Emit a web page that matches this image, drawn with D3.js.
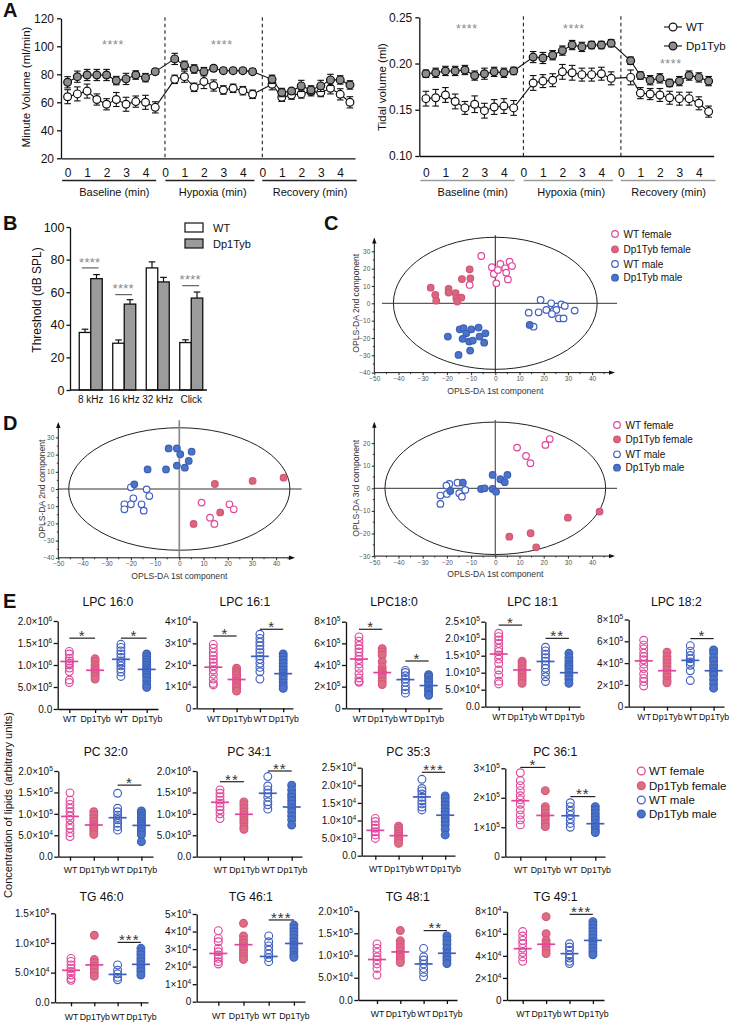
<!DOCTYPE html>
<html><head><meta charset="utf-8">
<script src="https://cdn.jsdelivr.net/npm/d3@7/dist/d3.min.js"></script>
<style>html,body{margin:0;padding:0;background:#fff;} svg{display:block;}</style>
</head><body>
<svg id="fig" width="732" height="1022" xmlns="http://www.w3.org/2000/svg"></svg>
<script>
const FONT = '"Liberation Sans", Arial, Helvetica, sans-serif';

// ================= Panel A data =================
const aTimes = [0,0.5,1,1.5,2,2.5,3,3.5,4,4.5, 5.5,6,6.5,7,7.5,8,8.5,9,9.5, 10.5,11,11.5,12,12.5,13,13.5,14,14.5];
const mvWT    = [64,66,68,62,58.6,62,58.6,60.5,60,56.4, 76.4,78.3,70.7,74.8,72,68.8,70,68.3,65.7, 72.9,63.6,65.2,66,67.6,67,70,65.7,60];
const mvWTerr = [5,5,5,4,4,5,5,4,5,4, 3,4,3,5,4,3,3,3,3, 4,3,3,3,3,3,4,4,4];
const mvDp    = [74.3,78.3,79.5,79.5,79.5,75.5,76.7,79.5,77.6,81.9, 91,86.4,83.8,81.9,84.3,82.6,82.6,82.6,81.9, 76.4,67,68,71.7,68.8,71.7,76,76,72.4];
const mvDpErr = [4,4,4,4,4,3,4,3,3,2, 4,3,3,3,2,2,2,2,2, 3,3,2,4,3,4,4,3,3];
const tvWT    = [0.162,0.163,0.166,0.159,0.152,0.156,0.149,0.153,0.154,0.152, 0.179,0.181,0.182,0.191,0.190,0.188,0.188,0.189,0.184, 0.185,0.168,0.167,0.166,0.163,0.162,0.162,0.157,0.148];
const tvWTerr = [0.008,0.009,0.008,0.008,0.007,0.009,0.008,0.008,0.008,0.008, 0.008,0.007,0.007,0.008,0.008,0.007,0.007,0.007,0.007, 0.008,0.006,0.006,0.007,0.007,0.007,0.007,0.007,0.006];
const tvDp    = [0.189,0.190,0.192,0.192,0.193,0.187,0.189,0.191,0.190,0.192, 0.207,0.206,0.209,0.214,0.220,0.218,0.220,0.220,0.222, 0.203,0.187,0.182,0.184,0.179,0.181,0.187,0.185,0.181];
const tvDpErr = [0.004,0.005,0.005,0.005,0.005,0.005,0.006,0.005,0.005,0.004, 0.006,0.006,0.005,0.005,0.005,0.005,0.004,0.004,0.004, 0.004,0.004,0.005,0.005,0.004,0.005,0.005,0.005,0.005];
const aTickVals = [0,1,2,3,4,5,6,7,8,9,10,11,12,13,14];
const aTickLabels = ["0","1","2","3","4","0","1","2","3","4","0","1","2","3","4"];
const aGroups = ["Baseline (min)","Hypoxia (min)","Recovery (min)"];
const aGroupSpans = [[-0.28,4.55],[5.02,9.6],[10.0,14.85]];
const aGroupCenters = [2.4,7.45,12.45];
const aDashes = [5,10];
const mvTicks = [20,40,60,80,100,120];
const tvTicks = [0.10,0.15,0.20,0.25];
const mvStars = [[2.33,102.4],[7.92,102.4]];
const tvStars = [[2.1,0.2395],[7.59,0.2395],[12.56,0.2017]];

// ================= Panel B data =================
const bCats = ["8 kHz","16 kHz","32 kHz","Click"];
const bWT = [35.3,28.7,74.9,29.1];
const bWTerr = [2,2,3.7,1.7];
const bDp = [68.3,52.7,66.3,56.4];
const bDpErr = [2.5,2.7,2.8,3.7];
const bTicks = [0,20,40,60,80,100];
const bSig = [[0,74.9],[1,58.5],[3,64]];

// ================= Panel C / D data =================
const pcaXTicks = [-50,-40,-30,-20,-10,0,10,20,30,40];
const cWTf = [[-5.8,27.3],[-1.4,20.8],[2.1,22.7],[-0.6,16.9],[0.4,11.5],[1.1,19.2],[4.1,20.2],[5.9,24],[6.9,21.5],[4.5,17.7],[5.2,13.8],[-10.6,10.6]];
const cDpF = [[-26.7,9],[-24.8,4.8],[-24.4,1.5],[-19.3,8.3],[-19.3,6.2],[-16.4,5.8],[-16.1,2.9],[-14,3.3],[-15.7,1],[-13.8,14],[-10.3,14.4],[-10.6,19.6]];
const cWTm = [[18.7,1.9],[23.1,0],[27.3,-0.6],[28.7,-1.5],[13.8,-5.4],[17.9,-5.2],[21.1,-3.8],[24.1,-4.4],[25.2,-3.8],[23.4,-6.2],[26.3,-8.7],[28.2,-8.7],[32.8,-4.2],[15.8,-13.5]];
const cDpM = [[14.2,-12.5],[-19.6,-19.2],[-14.7,-15],[-13.1,-14.4],[-9.9,-15],[-6.9,-14],[-12,-17.3],[-6.5,-19.2],[-4.1,-17.3],[-15.2,-29.8],[-10.4,-27.3],[-10.8,-22.1],[-9.3,-21.5],[-4.6,-22.7],[-13.5,-20.5]];
const dlWTf = [[9.2,-7.9],[12.7,-16.7],[14.5,-20.3],[20.7,-8.9],[22.5,-11.8]];
const dlDpF = [[14.7,2.9],[30.3,4.7],[43.1,6.6],[16.9,-13.6],[5.9,-20.3]];
const dlWTm = [[-20,1],[-19,-5.4],[-13.5,-0.2],[-12.4,-4.1],[-22.7,-8.9],[-22.7,-11.8],[-20,-8.9],[-15.6,-8.9],[-14.7,-12.6]];
const dlDpM = [[-4.4,23.6],[-1,23.6],[0.4,20.2],[5.1,21.7],[3.9,16.3],[-1,13.6],[2.3,12.4],[-5.5,11.4],[-13.1,11.4],[-18.6,2.7]];
const drWTf = [[9,18],[12.7,14.3],[14.5,11.1],[20.7,19.2],[22.5,21.8]];
const drDpF = [[30,-13],[43.1,-10.3],[14.6,-19.9],[5.8,-21.4],[16.9,-26.1]];
const drWTm = [[-19,1.9],[-20.2,1.2],[-15.6,2.5],[-22.7,-3.2],[-20,-2.5],[-14.9,-2.2],[-12.4,-0.7],[-13.8,-3.7],[-22.7,-6.9]];
const drDpM = [[-1.1,5.9],[2.1,4],[3.9,2.7],[5,5.9],[-13.4,2.5],[-18.6,-1.2],[-5.9,-0.3],[-4.4,0],[-1.1,-0.3],[0.3,-1.5]];
const groupNames = ["WT female","Dp1Tyb female","WT male","Dp1Tyb male"];

// ================= Panel E data =================
const eCats = ["WT","Dp1Tyb","WT","Dp1Tyb"];
const eTitles = ["LPC 16:0","LPC 16:1","LPC18:0","LPC 18:1","LPC 18:2","PC 32:0","PC 34:1","PC 35:3","PC 36:1","TG 46:0","TG 46:1","TG 48:1","TG 49:1"];
const lpc160 = [[1.31,1.25,1.15,1.09,1.04,1.0,0.93,0.85,0.66,0.60],[1.14,1.08,1.0,0.94,0.89,0.84,0.79,0.74,0.68],[1.47,1.40,1.32,1.25,1.17,1.09,1.04,0.98,0.91,0.84,0.74],[1.25,1.19,1.12,1.06,1.0,0.94,0.89,0.84,0.78,0.72,0.64,0.55,0.49]];
const lpc161 = [[2.95,2.77,2.58,2.42,2.26,2.12,1.95,1.77,1.57,1.35,1.15,1.08],[1.85,1.72,1.62,1.51,1.38,1.26,1.15,1.03,0.92,0.80],[3.42,3.23,3.05,2.89,2.72,2.57,2.42,2.26,2.08,1.89,1.69,1.35],[2.51,2.38,2.23,2.08,1.92,1.77,1.62,1.49,1.34,1.18,1.03,0.92]];
const lpc180 = [[6.6,6.2,5.8,5.5,5.2,4.8,4.5,4.1,3.7,3.2,2.8,2.5,2.4],[5.5,5.2,4.9,4.3,3.8,3.5,3.3,3.1,2.8,2.5,2.2],[3.5,3.3,3.0,2.7,2.4,2.0,1.7,1.4],[3.1,2.9,2.6,2.4,2.1,1.8,1.6,1.3,1.2]];
const lpc181 = [[2.16,2.06,1.96,1.86,1.72,1.62,1.52,1.40,1.27,1.08,0.93,0.75,0.67],[1.34,1.27,1.20,1.11,1.03,0.95,0.86,0.78,0.69],[1.75,1.64,1.54,1.44,1.34,1.23,1.13,1.01,0.88,0.74],[1.57,1.45,1.34,1.25,1.18,1.10,1.01,0.91,0.81,0.69]];
const lpc182 = [[6.1,5.65,5.3,4.9,4.6,4.3,3.9,3.5,3.0,2.6,2.3,1.9],[5.0,4.6,4.3,4.0,3.7,3.4,3.0,2.7,2.4,2.2],[5.6,5.1,4.7,4.4,4.1,3.8,3.3,2.4],[5.2,4.9,4.5,4.2,3.8,3.5,3.2,2.9,2.5,2.1,1.7]];
const pc320 = [[1.49,1.32,1.22,1.13,1.05,0.95,0.86,0.74,0.66,0.56,0.47],[1.05,0.97,0.89,0.82,0.75,0.70,0.64,0.58,0.52],[1.48,1.13,1.05,0.97,0.91,0.86,0.78,0.70,0.62],[1.07,1.01,0.95,0.89,0.83,0.78,0.72,0.65,0.58,0.51,0.35]];
const pc341 = [[1.56,1.48,1.40,1.32,1.25,1.17,1.09,1.0,0.89],[1.28,1.21,1.13,1.05,0.97,0.91,0.84,0.78,0.70,0.64],[1.87,1.65,1.56,1.48,1.39,1.28,1.21,1.11],[1.67,1.56,1.46,1.39,1.31,1.23,1.14,1.05,0.95,0.86,0.74]];
const pc353 = [[1.06,0.97,0.87,0.78,0.68,0.59,0.49],[0.84,0.78,0.70,0.63,0.56,0.49,0.42,0.35],[2.17,1.91,1.84,1.75,1.66,1.56,1.47,1.38,1.30],[1.70,1.63,1.53,1.44,1.34,1.25,1.16,1.06,0.97,0.87,0.75,0.59]];
const pc361 = [[2.85,2.58,2.41,2.24,2.07,1.93,1.78,1.59,1.42,1.25,1.08],[2.24,1.70,1.59,1.47,1.36,1.25,1.13,1.02],[1.83,1.70,1.55,1.42,1.27,1.13,1.0],[1.70,1.59,1.47,1.36,1.25,1.13,1.02,0.91,0.82]];
const tg460 = [[0.74,0.69,0.63,0.57,0.52,0.46,0.40,0.37],[1.13,0.72,0.67,0.61,0.56,0.50,0.44],[0.63,0.54,0.48,0.42,0.38],[0.91,0.85,0.80,0.74,0.69,0.63,0.57,0.52,0.46]];
const tg461 = [[4.05,3.61,3.42,3.04,2.85,2.66,2.47,2.28,2.15],[4.47,3.75,3.52,3.33,3.14,2.95,2.76,2.57,2.41],[3.75,3.42,3.18,2.95,2.72,2.51,2.28],[4.37,4.18,3.99,3.80,3.61,3.42,3.23,3.04,2.85,2.66,2.53]];
const tg481 = [[1.26,1.16,1.07,0.97,0.90,0.81,0.71,0.56],[1.56,1.33,1.26,1.18,1.11,1.03,0.96,0.90,0.84],[1.16,0.97,0.90,0.81,0.71,0.62,0.52],[1.44,1.35,1.26,1.16,1.05,0.97,0.90,0.82]];
const tg491 = [[6.2,5.8,5.4,5.1,4.7,4.3,3.9,3.5],[7.55,6.0,5.4,5.1,4.8,4.5,4.2],[5.1,4.8,4.5,4.1,3.8,3.5,3.3],[7.1,6.8,6.5,6.2,5.9,5.6,5.3,5.0,4.7,4.4,4.1]];
const eData = [lpc160,lpc161,lpc180,lpc181,lpc182,pc320,pc341,pc353,pc361,tg460,tg461,tg481,tg491];
const eMeans = [[1.08,0.88,1.13,0.90],[1.9,1.33,2.4,1.6],[4.55,3.3,2.65,2.1],[1.55,1.08,1.33,1.0],[4.2,3.3,4.25,3.3],[0.94,0.74,0.91,0.73],[1.27,0.99,1.48,1.16],[0.72,0.57,1.67,1.15],[1.9,1.4,1.39,1.12],[0.54,0.63,0.47,0.64],[2.75,3.25,2.58,3.32],[0.91,1.08,0.81,1.05],[4.65,5.05,4.2,5.4]];
const eTickVals = [[0,0.5,1,1.5,2],[0,1,2,3,4],[0,2,4,6,8],[0,0.5,1,1.5,2,2.5],[0,2,4,6,8],[0,0.5,1,1.5,2],[0,0.5,1,1.5,2],[0,0.5,1,1.5,2,2.5],[0,1,2,3],[0,0.5,1,1.5],[0,1,2,3,4,5],[0,0.5,1,1.5,2],[0,2,4,6,8]];
const eTickLabels = [
 ["0.0","5.0×10^5","1.0×10^6","1.5×10^6","2.0×10^6"],
 ["0","1×10^4","2×10^4","3×10^4","4×10^4"],
 ["0","2×10^5","4×10^5","6×10^5","8×10^5"],
 ["0.0","5.0×10^4","1.0×10^5","1.5×10^5","2.0×10^5","2.5×10^5"],
 ["0","2×10^5","4×10^5","6×10^5","8×10^5"],
 ["0.0","5.0×10^4","1.0×10^5","1.5×10^5","2.0×10^5"],
 ["0.0","5.0×10^5","1.0×10^6","1.5×10^6","2.0×10^6"],
 ["0.0","5.0×10^3","1.0×10^4","1.5×10^4","2.0×10^4","2.5×10^4"],
 ["0","1×10^5","2×10^5","3×10^5"],
 ["0.0","5.0×10^4","1.0×10^5","1.5×10^5"],
 ["0","1×10^4","2×10^4","3×10^4","4×10^4","5×10^4"],
 ["0.0","5.0×10^4","1.0×10^5","1.5×10^5","2.0×10^5"],
 ["0","2×10^4","4×10^4","6×10^4","8×10^4"]
];
const eSig = [
 [[0,1,"*",1.61],[2,3,"*",1.61]],
 [[0,1,"*",3.34],[2,3,"*",3.65]],
 [[0,1,"*",7.3],[2,3,"*",4.37]],
 [[0,1,"*",2.40],[2,3,"**",2.01]],
 [[2,3,"*",6.25]],
 [[2,3,"*",1.67]],
 [[0,1,"**",1.75],[2,3,"**",2.0]],
 [[2,3,"***",2.37]],
 [[0,1,"*",3.03],[2,3,"**",2.04]],
 [[2,3,"***",1.01]],
 [[2,3,"***",4.66]],
 [[2,3,"**",1.56]],
 [[2,3,"***",7.76]]
];

// ================= layout (pixels) =================
// [axisX, firstCatX, catStep, axisEndX, topPx, zeroPx, row]
const eLayout = [
 [57.7,69.3,25.8,158,621,709,0],[196.7,213.3,23.3,293,621.7,708.3,0],[346,359,23.2,442,621.7,708.3,0],[485.3,498.7,23.4,580,621.7,706.7,0],[628.7,643.7,23.3,724,619.5,706.7,0],
 [58.3,70,23.8,153,771,856.7,1],[196.7,220,23.9,302,771,856.7,1],[361.7,375.3,23.3,455,767.7,855.7,1],[505.3,520.3,25,605,768.3,856.7,1],
 [55,71,23.3,148,913.3,1002.3,2],[196.7,218.3,25.2,305,914,1001.7,2],[358.3,377,23.3,457,911,1000,2],[507,522.7,23.4,604,911.7,1000,2]
];
const eTitleY = [606,756,901];
const ePad = [3,6,7];

const PINK = "#e0479a", PINKFILL = "#d9707f", PINKFSTROKE = "#dc5286";
const BLUE = "#4060c0", BLUEFILL = "#4b74c8", BLUEFSTROKE = "#3c60b8";
const gFill = ["none",PINKFILL,"none",BLUEFILL];
const gStroke = [PINK,PINKFSTROKE,BLUE,BLUEFSTROKE];
const gMean = [PINK,PINK,BLUE,BLUE];

const svg = d3.select("#fig");
svg.append("rect").attr("width",732).attr("height",1022).attr("fill","#fff");

function T(g,x,y,str,fs,o={}){
  const t=g.append("text").attr("x",x).attr("y",y).attr("font-family",FONT).attr("font-size",fs).attr("fill",o.fill||"#111").text(str);
  if(o.anchor) t.attr("text-anchor",o.anchor);
  if(o.weight) t.attr("font-weight",o.weight);
  if(o.ls) t.attr("letter-spacing",o.ls);
  if(o.rotate){ t.attr("transform",`rotate(-90,${x},${y})`).attr("dominant-baseline","central"); }
  return t;
}
function styleAxis(a,fs,col){
  a.attr("font-family",FONT).attr("font-size",fs);
  a.selectAll("text").attr("fill",col||"#111");
  a.selectAll(".domain,.tick line").attr("stroke","#111").attr("stroke-width",1.3);
}
function supText(sel,label){
  sel.text(null);
  const p=label.split("^");
  sel.append("tspan").text(p[0]);
  if(p[1]) sel.append("tspan").attr("font-size",6.6).attr("dy",-4).text(p[1]);
}

// ================= Panel A =================
function panelA(o){
  const g=svg.append("g");
  const x=d3.scaleLinear().domain([-0.34,14.76]).range([o.x0,o.x1]);
  const y=d3.scaleLinear().domain(o.yDom).range([o.yBot,o.yTop]);
  aDashes.forEach(t=>g.append("line").attr("x1",x(t)).attr("x2",x(t)).attr("y1",o.yTop-1).attr("y2",o.yBot).attr("stroke","#222").attr("stroke-width",1.1).attr("stroke-dasharray","3.5,3"));
  const ya=g.append("g").attr("transform",`translate(${o.x0},0)`).call(d3.axisLeft(y).tickValues(o.yTicks).tickFormat(o.fmt).tickSize(4).tickPadding(3).tickSizeOuter(0));
  const xa=g.append("g").attr("transform",`translate(0,${o.yBot})`).call(d3.axisBottom(x).tickValues(aTickVals).tickFormat((d,i)=>aTickLabels[i]).tickSize(0).tickPadding(177-8.5-o.yBot).tickSizeOuter(0));
  styleAxis(ya,12); styleAxis(xa,12);
  aGroups.forEach((nm,i)=>{
    const s=aGroupSpans[i];
    g.append("line").attr("x1",x(s[0])).attr("x2",x(s[1])).attr("y1",180.5).attr("y2",180.5).attr("stroke",o.ul).attr("stroke-width",1.6);
    T(g,x(aGroupCenters[i]),196,nm,11,{anchor:"middle"});
  });
  const series=[[o.wt,o.wtE,"#fff"],[o.dp,o.dpE,"#8c8c8c"]];
  series.forEach(([v,e])=>{
    g.append("path").datum(v).attr("fill","none").attr("stroke","#111").attr("stroke-width",1.1)
      .attr("d",d3.line().x((d,i)=>x(aTimes[i])).y(d=>y(d)));
  });
  series.forEach(([v,e,fill])=>{
    const eb=g.append("g");
    v.forEach((d,i)=>{
      const cx=x(aTimes[i]);
      eb.append("line").attr("x1",cx).attr("x2",cx).attr("y1",y(d-e[i])).attr("y2",y(d+e[i])).attr("stroke","#111").attr("stroke-width",1.1);
      [d-e[i],d+e[i]].forEach(w=>eb.append("line").attr("x1",cx-3.3).attr("x2",cx+3.3).attr("y1",y(w)).attr("y2",y(w)).attr("stroke","#111").attr("stroke-width",1.1));
    });
    g.selectAll(null).data(v).enter().append("circle").attr("cx",(d,i)=>x(aTimes[i])).attr("cy",d=>y(d)).attr("r",3.9)
      .attr("fill",fill).attr("stroke","#111").attr("stroke-width",1.2);
  });
  o.stars.forEach(([t,v])=>T(g,x(t),y(v)+6,"****",12.5,{anchor:"middle",fill:"#8a8a8a",ls:0.6}));
  T(g,o.lx,o.ly,o.label,11.5,{anchor:"middle",rotate:true});
  return {x,y};
}
panelA({x0:61,x1:355,yTop:18.3,yBot:158.3,yDom:[20,120],yTicks:mvTicks,fmt:d3.format("d"),wt:mvWT,wtE:mvWTerr,dp:mvDp,dpE:mvDpErr,stars:mvStars,ul:"#222",lx:26,ly:87,label:"Minute Volume (ml/min)"});
panelA({x0:419.3,x1:713.7,yTop:17.3,yBot:156,yDom:[0.10,0.25],yTicks:tvTicks,fmt:d3.format(".2f"),wt:tvWT,wtE:tvWTerr,dp:tvDp,dpE:tvDpErr,stars:tvStars,ul:"#9a9a9a",lx:382,ly:87,label:"Tidal volume (ml)"});
(function(){
  const g=svg.append("g");
  [["WT","#fff",27],["Dp1Tyb","#8c8c8c",46]].forEach(([nm,f,yy])=>{
    g.append("line").attr("x1",664).attr("x2",682).attr("y1",yy).attr("y2",yy).attr("stroke","#111").attr("stroke-width",1.1);
    g.append("circle").attr("cx",673).attr("cy",yy).attr("r",3.9).attr("fill",f).attr("stroke","#111").attr("stroke-width",1.2);
    T(g,686,yy+4.2,nm,11.5);
  });
})();
T(svg,3,17,"A",20,{weight:"bold"});

// ================= Panel B =================
(function(){
  const g=svg.append("g");
  const x=d3.scaleBand().domain(bCats).range([74,208]).paddingInner(0).paddingOuter(0);
  const y=d3.scaleLinear().domain([0,100]).range([390,227]);
  const bw=11.5;
  const ya=g.append("g").attr("transform","translate(70,0)").call(d3.axisLeft(y).tickValues(bTicks).tickSize(3.5).tickPadding(2).tickSizeOuter(0));
  styleAxis(ya,12.5);
  const xa=g.append("g").attr("transform","translate(0,390)").call(d3.axisBottom(x).tickSize(0).tickPadding(6).tickSizeOuter(0));
  styleAxis(xa,10);
  xa.select(".domain").attr("d","M70,0H207");
  bCats.forEach((c,i)=>{
    const cx=x(c)+x.bandwidth()/2;
    [[bWT[i],bWTerr[i],cx-bw,"#fff"],[bDp[i],bDpErr[i],cx,"#9b9b9b"]].forEach(([v,e,x0,f])=>{
      g.append("line").attr("x1",x0+bw/2).attr("x2",x0+bw/2).attr("y1",y(v)).attr("y2",y(v+e)).attr("stroke","#111").attr("stroke-width",1.2);
      g.append("line").attr("x1",x0+bw/2-3.3).attr("x2",x0+bw/2+3.3).attr("y1",y(v+e)).attr("y2",y(v+e)).attr("stroke","#111").attr("stroke-width",1.2);
      g.append("rect").attr("x",x0).attr("width",bw).attr("y",y(v)).attr("height",y(0)-y(v)).attr("fill",f).attr("stroke","#111").attr("stroke-width",1.3);
    });
  });
  xa.raise();
  bSig.forEach(([i,v])=>{
    const cx=x(bCats[i])+x.bandwidth()/2;
    g.append("line").attr("x1",cx-bw+2.5).attr("x2",cx+bw/2+2).attr("y1",y(v)).attr("y2",y(v)).attr("stroke","#555").attr("stroke-width",1.1);
    T(g,cx-1,y(v)-1.2,"****",13,{anchor:"middle",fill:"#8a8a8a",ls:0.3});
  });
  [["WT","#fff",223],["Dp1Tyb","#9b9b9b",239]].forEach(([nm,f,yy])=>{
    g.append("rect").attr("x",185).attr("y",yy).attr("width",18).attr("height",9).attr("fill",f).attr("stroke","#111").attr("stroke-width",1.2);
    T(g,213,yy+9,nm,11);
  });
  T(g,37,300,"Threshold (dB SPL)",12,{anchor:"middle",rotate:true});
})();
T(svg,3,230,"B",20,{weight:"bold"});

// ================= Panels C and D =================
function pca(o){
  const g=svg.append("g");
  const x=d3.scaleLinear().domain([-50,40]).range([o.xm50,o.xm50+90*o.kx]);
  const y=d3.scaleLinear().domain([0,10]).range([o.y0,o.y0-10*o.ky]);
  const yb=y(o.yMin), xl=x(-50), yt=y(o.yArrow);
  g.append("ellipse").attr("cx",x(0)).attr("cy",y(0)).attr("rx",x(o.ell[0])-x(0)).attr("ry",y(0)-y(o.ell[1])).attr("fill","none").attr("stroke","#222").attr("stroke-width",1);
  g.append("line").attr("x1",o.hl[0]).attr("x2",o.hl[1]).attr("y1",y(0)).attr("y2",y(0)).attr("stroke","#333").attr("stroke-width",1);
  g.append("line").attr("x1",x(0)).attr("x2",x(0)).attr("y1",y(o.vTop)).attr("y2",yb).attr("stroke",o.vCol).attr("stroke-width",o.vW);
  const ya=g.append("g").attr("transform",`translate(${xl},0)`).call(d3.axisLeft(y).tickValues(o.yTicks).tickFormat(d3.format("d")).tickSize(2.5).tickPadding(1.5).tickSizeOuter(0));
  ya.select(".domain").remove();
  styleAxis(ya,6.5,"#555"); ya.selectAll(".tick line").attr("stroke-width",0.9);
  const xa=g.append("g").attr("transform",`translate(0,${yb})`).call(d3.axisBottom(x).tickValues(pcaXTicks).tickFormat(d3.format("d")).tickSize(2.5).tickPadding(1.5).tickSizeOuter(0));
  xa.select(".domain").remove();
  styleAxis(xa,6.5,"#555"); xa.selectAll(".tick line").attr("stroke-width",0.9);
  o.yTicks.slice(0,-1).forEach(v=>g.append("line").attr("x1",xl-1.5).attr("x2",xl).attr("y1",y(v+5)).attr("y2",y(v+5)).attr("stroke","#111").attr("stroke-width",0.8));
  pcaXTicks.forEach(v=>g.append("line").attr("x1",x(v+5)).attr("x2",x(v+5)).attr("y1",yb).attr("y2",yb+1.5).attr("stroke","#111").attr("stroke-width",0.8));
  g.append("line").attr("x1",xl).attr("x2",xl).attr("y1",yb).attr("y2",yt+2).attr("stroke","#111").attr("stroke-width",1);
  g.append("line").attr("x1",xl).attr("x2",o.xEnd-2).attr("y1",yb).attr("y2",yb).attr("stroke","#111").attr("stroke-width",1);
  g.append("path").attr("d",`M${xl-2.2},${yt+6}L${xl},${yt}L${xl+2.2},${yt+6}Z`).attr("fill","#111");
  g.append("path").attr("d",`M${o.xEnd-6},${yb-2.2}L${o.xEnd},${yb}L${o.xEnd-6},${yb+2.2}Z`).attr("fill","#111");
  const sets=[[o.wtf,"#fff",PINK],[o.dpf,"#d9677c","#d3567a"],[o.wtm,"#fff",BLUE],[o.dpm,BLUEFILL,BLUEFSTROKE]];
  sets.forEach(([pts,f,s])=>{
    g.selectAll(null).data(pts).enter().append("circle").attr("cx",d=>x(d[0])).attr("cy",d=>y(d[1])).attr("r",3.3)
      .attr("fill",f).attr("stroke",s).attr("stroke-width",1.2);
  });
  T(g,x(0),yb+21,"OPLS-DA 1st component",8.6,{anchor:"middle",fill:"#333"});
  T(g,o.ylx,y(0),o.ylab,8.6,{anchor:"middle",fill:"#333",rotate:true});
  if(o.leg){
    const [lx,ys]=o.leg;
    sets.forEach(([pts,f,s],i)=>{
      g.append("circle").attr("cx",lx).attr("cy",ys[i]).attr("r",3.3).attr("fill",f).attr("stroke",s).attr("stroke-width",1.2);
      T(g,lx+8.5,ys[i]+3.5,groupNames[i],10);
    });
  }
}
pca({xm50:374.3,kx:2.42,y0:303.3,ky:1.733,yMin:-40,yArrow:38,vTop:39.3,yTicks:[-40,-30,-20,-10,0,10,20,30],ell:[42.1,38.1],hl:[382,617],xEnd:615,vCol:"#222",vW:1,wtf:cWTf,dpf:cDpF,wtm:cWTm,dpm:cDpM,ylx:356.5,ylab:"OPLS-DA 2nd component",leg:[615,[234,249.3,264,277.7]]});
pca({xm50:58.3,kx:2.42,y0:489,ky:1.72,yMin:-40,yArrow:39,vTop:40,yTicks:[-40,-30,-20,-10,0,10,20,30],ell:[45.7,35.6],hl:[58.3,301.7],xEnd:295,vCol:"#8a8a8a",vW:1.7,wtf:dlWTf,dpf:dlDpF,wtm:dlWTm,dpm:dlDpM,ylx:41.5,ylab:"OPLS-DA 2nd component"});
pca({xm50:374.3,kx:2.42,y0:488.3,ky:2.26,yMin:-30,yArrow:29.5,vTop:30.2,yTicks:[-30,-20,-10,0,10,20],ell:[45.6,29.3],hl:[374.3,617],xEnd:615,vCol:"#555",vW:1.2,wtf:drWTf,dpf:drDpF,wtm:drWTm,dpm:drDpM,ylx:356.5,ylab:"OPLS-DA 3rd component",leg:[617,[425,439.3,454.3,467.7]]});
T(svg,324,230,"C",20,{weight:"bold"});
T(svg,3,430,"D",20,{weight:"bold"});

// ================= Panel E =================
function dotPlot(i){
  const [ax,c0,st,ex,top,bot,row]=eLayout[i];
  const d=eData[i], m=eMeans[i], tv=eTickVals[i], tl=eTickLabels[i];
  const g=svg.append("g");
  const x=d3.scaleLinear().domain([(ax-c0)/st,(ex-c0)/st]).range([ax,ex]);
  const y=d3.scaleLinear().domain([0,tv[tv.length-1]]).range([bot,top]);
  T(g,(ax+ex)/2,eTitleY[row],eTitles[i],12.2,{anchor:"middle"});
  const ya=g.append("g").attr("transform",`translate(${ax},0)`).call(d3.axisLeft(y).tickValues(tv).tickSize(4).tickPadding(1.5).tickSizeOuter(0));
  styleAxis(ya,10);
  ya.selectAll(".tick text").each(function(dd,k){supText(d3.select(this),tl[k]);});
  const xa=g.append("g").attr("transform",`translate(0,${bot})`).call(d3.axisBottom(x).tickValues([0,1,2,3]).tickFormat(k=>eCats[k]).tickSize(4).tickPadding(ePad[row]).tickSizeOuter(0));
  styleAxis(xa,8.8);
  d.forEach((vals,k)=>{
    g.selectAll(null).data(vals).enter().append("circle").attr("cx",x(k)).attr("cy",v=>y(v)).attr("r",3.9)
      .attr("fill",gFill[k]).attr("stroke",gStroke[k]).attr("stroke-width",1.15);
  });
  m.forEach((v,k)=>g.append("line").attr("x1",x(k)-9).attr("x2",x(k)+9).attr("y1",y(v)).attr("y2",y(v)).attr("stroke",gMean[k]).attr("stroke-width",1.7));
  eSig[i].forEach(([a,b,s,v])=>{
    g.append("line").attr("x1",x(a)).attr("x2",x(b)).attr("y1",y(v)).attr("y2",y(v)).attr("stroke","#222").attr("stroke-width",1.2);
    T(g,(x(a)+x(b))/2,y(v)+2.8,s,15,{anchor:"middle",fill:"#333",ls:1});
  });
}
eData.forEach((_,i)=>dotPlot(i));
(function(){
  const g=svg.append("g");
  const ys=[771,785.7,800,814];
  groupNames.forEach((nm,i)=>{
    g.append("circle").attr("cx",641.3).attr("cy",ys[i]).attr("r",3.9).attr("fill",gFill[i]).attr("stroke",gStroke[i]).attr("stroke-width",1.3);
    T(g,649,ys[i]+4,nm,11.5);
  });
})();
T(svg,8,805,"Concentration of lipids (arbitrary units)",11,{anchor:"middle",rotate:true});
T(svg,3,608,"E",20,{weight:"bold"});
</script>
</body></html>
